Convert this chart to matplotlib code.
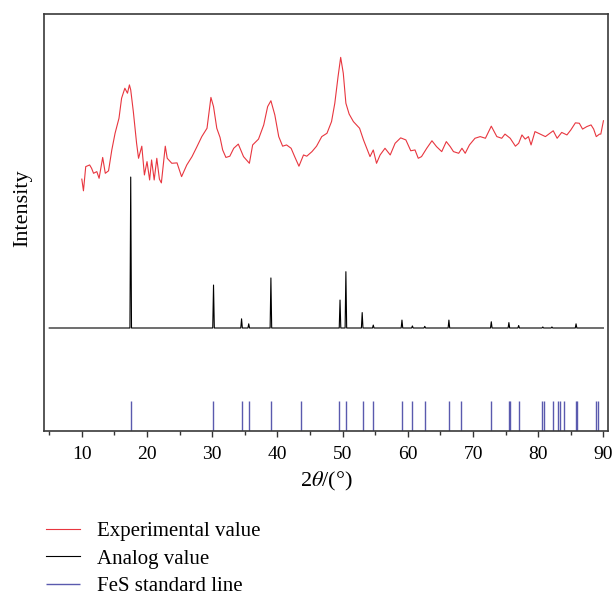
import numpy as np
import matplotlib
matplotlib.use("Agg")
import matplotlib.pyplot as plt

plt.rcParams['font.family'] = 'serif'
plt.rcParams['font.serif'] = ['Liberation Serif', 'DejaVu Serif']
plt.rcParams['mathtext.fontset'] = 'stix'

# experimental XRD pattern (arbitrary intensity units)
exp_2theta = [10.0, 10.25, 10.6, 11.2, 11.5, 11.8, 12.3, 12.65, 13.2, 13.6, 14.1, 14.6,
              15.1, 15.7, 16.1, 16.6, 17.0, 17.3, 17.5, 17.9, 18.4, 18.7, 19.2, 19.6,
              20.0, 20.4, 20.7, 21.1, 21.5, 21.9, 22.2, 22.8, 23.1, 23.8, 24.6, 25.3,
              26.1, 26.9, 27.6, 28.4, 29.2, 29.8, 30.2, 30.7, 31.2, 31.6, 32.1, 32.7,
              33.3, 34.0, 34.8, 35.7, 36.2, 37.1, 37.9, 38.5, 39.0, 39.6, 40.2, 40.8,
              41.4, 42.1, 42.7, 43.3, 44.0, 44.5, 45.3, 46.0, 46.8, 47.6, 48.3, 48.8,
              49.3, 49.7, 50.1, 50.5, 51.0, 51.65, 52.6, 53.2, 53.7, 54.2, 54.7, 55.2,
              55.75, 56.5, 57.3, 58.05, 58.9, 59.7, 60.45, 61.1, 61.6, 62.1, 62.9, 63.7,
              64.4, 65.2, 65.9, 66.5, 67.0, 67.8, 68.3, 68.8, 69.45, 70.3, 71.1, 71.9,
              72.4, 72.8, 73.1, 73.65, 74.4, 74.9, 75.7, 76.5, 77.0, 77.5, 78.0, 78.5,
              78.9, 79.5, 80.3, 81.1, 81.8, 82.3, 82.9, 83.6, 84.4, 85.0, 85.7, 86.3,
              86.8, 87.45, 88.1, 88.5, 88.9, 89.4, 89.6, 90.0]
exp_int = [60.4, 57.6, 63.4, 63.8, 63.0, 61.8, 62.2, 60.6, 65.6, 61.8, 62.4, 67.4,
           71.4, 75.0, 79.8, 82.2, 81.0, 83.0, 81.8, 76.6, 69.0, 65.4, 68.3, 61.4,
           64.6, 60.2, 65.0, 60.2, 65.4, 60.4, 59.5, 68.3, 65.4, 64.2, 64.3, 61.0,
           63.8, 65.8, 68.0, 70.6, 72.6, 80.0, 77.8, 72.6, 70.4, 67.4, 65.6, 65.9,
           67.8, 68.8, 65.8, 64.2, 68.6, 70.0, 73.4, 77.8, 79.2, 75.8, 70.6, 68.3,
           68.6, 67.8, 65.6, 63.5, 66.2, 65.9, 67.0, 68.3, 70.6, 71.4, 74.2, 78.6,
           85.0, 89.6, 85.8, 78.6, 76.0, 74.2, 72.6, 69.8, 67.8, 65.8, 67.4, 64.2,
           66.2, 67.8, 66.2, 69.0, 70.3, 69.8, 67.2, 67.4, 65.4, 65.8, 67.8, 69.6,
           68.2, 67.0, 69.4, 68.2, 67.0, 66.6, 67.8, 66.6, 68.6, 70.2, 70.6, 70.2,
           71.8, 73.1, 72.2, 70.6, 70.2, 71.2, 70.2, 68.3, 69.0, 71.0, 70.0, 70.6,
           68.6, 71.8, 71.2, 70.6, 71.4, 72.0, 70.2, 71.6, 71.0, 72.2, 73.9, 73.8,
           72.4, 73.0, 73.4, 72.4, 70.6, 71.2, 71.2, 74.4]

# simulated (analog) pattern: baseline plus peak positions / tops
sim_base = 24.7
sim_range = [5.0, 90.0]
sim_pos = [17.5, 30.2, 34.5, 35.6, 39.0, 49.6, 50.5, 53.0, 54.7, 59.1, 60.7,
           62.6, 66.3, 72.8, 75.5, 77.0, 80.7, 82.1, 85.8]
sim_top = [60.9, 35.0, 26.9, 25.7, 36.7, 31.4, 38.2, 28.4, 25.4, 26.6, 25.2,
           25.1, 26.6, 26.2, 26.0, 25.3, 24.95, 24.95, 25.7]

# FeS standard card lines
fes_pos = [17.6, 30.1, 34.5, 35.7, 39.0, 43.6, 49.5, 50.5, 53.1, 54.7, 59.1, 60.7,
           62.6, 66.3, 68.2, 72.8, 75.5, 75.7, 77.0, 80.6, 80.9, 82.2, 83.1, 83.3,
           83.9, 85.8, 85.95, 88.8, 89.1]
fes_top = 7.3

# build the stick-like simulated profile from the peak table
half_w = 0.12
sx = [sim_range[0]]
sy = [sim_base]
for p, h in zip(sim_pos, sim_top):
    sx += [p - half_w, p, p + half_w]
    sy += [sim_base, h, sim_base]
sx.append(sim_range[1])
sy.append(sim_base)

fig = plt.figure(figsize=(6.14, 5.98), dpi=100)
ax = fig.add_axes([44/614, 167/598, 564/614, 417/598])

ax.plot(exp_2theta, exp_int, color='#e8363f', lw=0.8, label='Experimental value')
ax.plot(sx, sy, color='black', lw=0.8, label='Analog value')
ax.vlines(fes_pos, 0, fes_top, color='#5a5aae', lw=1.0, label='FeS standard line')

ax.set_xlim(4.2, 90.7)
ax.set_ylim(0, 100)
ax.set_xticks(range(10, 91, 10))
ax.set_xticks(range(5, 91, 10), minor=True)
ax.set_yticks([])
ax.tick_params(axis='x', which='major', direction='out', length=4.5, width=1.0,
               pad=6, labelsize=14, color='#333333')
ax.tick_params(axis='x', which='minor', direction='out', length=3, width=1.0,
               color='#333333')
for s in ax.spines.values():
    s.set_color('#3a3a3a')
    s.set_linewidth(1.2)

ax.set_xlabel(r'2$\theta$/(°)', fontsize=16, labelpad=5)
ax.set_ylabel('Intensity', fontsize=16)
ax.yaxis.set_label_coords(-0.02, 0.535)

ax.legend(loc='upper left', bbox_to_anchor=(-0.012, -0.197), frameon=False,
          fontsize=15, handlelength=1.65, handletextpad=0.8, labelspacing=0.38,
          borderaxespad=0)

fig.savefig('out.png', dpi=100)
